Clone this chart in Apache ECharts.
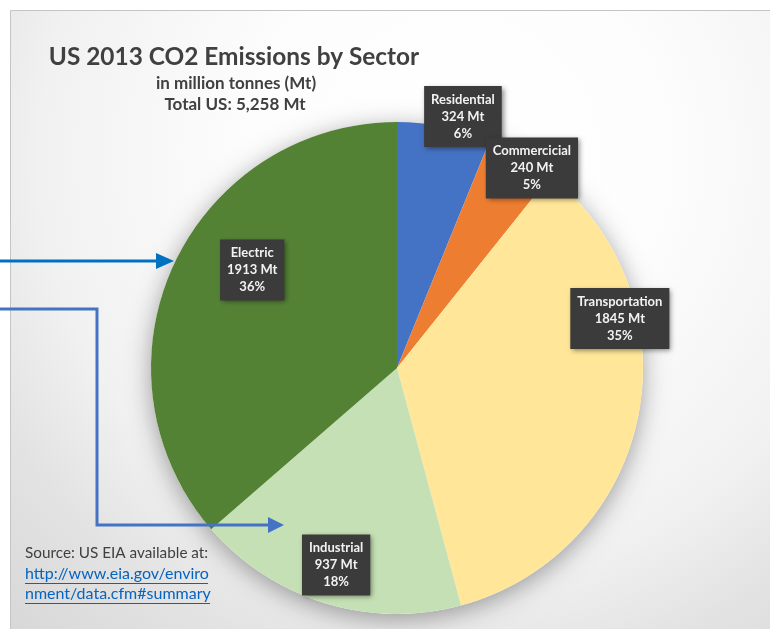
<!DOCTYPE html>
<html>
<head>
<meta charset="utf-8">
<script src="https://cdn.jsdelivr.net/npm/echarts@6/dist/echarts.min.js"></script>
<style>
  html, body { margin: 0; padding: 0; background: #ffffff; }
  #chart { width: 770px; height: 629px; }
</style>
</head>
<body>
<div id="chart"></div>
<script>
// Sectors, clockwise from twelve o'clock
const sectors = ['Residential', 'Commercicial', 'Transportation', 'Industrial', 'Electric'];
// Emissions in million tonnes (Mt)
const emissions = [324, 240, 1845, 937, 1913];
const sectorColors = ['#4472C4', '#ED7D31', '#FFE699', '#C5E0B4', '#548235'];

// Where each label box sits: [fraction of radius, angle nudge in degrees]
const labelPlacement = [[1.057, 3.6], [0.981, 3.6], [0.928, -24.3], [0.838, 0.2], [0.711, 9.6]];

const titleText = 'US 2013 CO2 Emissions by Sector';
const subtitleLines = ['in million tonnes (Mt)', 'Total US: 5,258 Mt'];
const sourceLine = 'Source: US EIA available at:';
const linkLines = ['http://www.eia.gov/enviro', 'nment/data.cfm#summary'];

const FONT = 'Lato, "Open Sans", sans-serif';
const PIE_CENTER = [397, 368];
const PIE_RADIUS = 246;

const total = emissions.reduce((a, b) => a + b, 0);
// mid angle of each slice, degrees clockwise from the top
const midAngles = [];
let acc = 0;
emissions.forEach(v => {
  const span = v / total * 360;
  midAngles.push(acc + span / 2);
  acc += span;
});

const chart = echarts.init(document.getElementById('chart'), null, { renderer: 'canvas' });

const option = {
  animation: false,
  graphic: [
    {
      type: 'rect', z: 0, silent: true,
      shape: { x: 10.5, y: 10.5, width: 770, height: 630 },
      style: {
        fill: new echarts.graphic.RadialGradient(0.58, 0.23, 1.05, [
          { offset: 0, color: '#ffffff' },
          { offset: 0.3, color: '#fdfdfd' },
          { offset: 0.45, color: '#f8f8f8' },
          { offset: 0.63, color: '#f1f1f1' },
          { offset: 0.79, color: '#e3e3e3' },
          { offset: 1, color: '#d7d7d7' }
        ]),
        stroke: '#c4c4c4', lineWidth: 1
      }
    },
    {
      type: 'text', z: 5, x: 234, y: 57,
      style: { text: titleText, font: 'bold 24.4px ' + FONT, fill: '#404040', align: 'center', verticalAlign: 'middle' }
    },
    {
      type: 'text', z: 5, x: 236, y: 84,
      style: { text: subtitleLines[0], font: 'bold 17px ' + FONT, fill: '#404040', align: 'center', verticalAlign: 'middle' }
    },
    {
      type: 'text', z: 5, x: 235, y: 105,
      style: { text: subtitleLines[1], font: 'bold 17px ' + FONT, fill: '#404040', align: 'center', verticalAlign: 'middle' }
    },
    {
      type: 'text', z: 5, x: 25, y: 553,
      style: { text: sourceLine, font: '15.3px ' + FONT, fill: '#404040', align: 'left', verticalAlign: 'middle' }
    },
    {
      type: 'text', z: 5, x: 25, y: 574,
      style: { text: linkLines[0], font: '16px ' + FONT, fill: '#0563C1', align: 'left', verticalAlign: 'middle' }
    },
    {
      type: 'text', z: 5, x: 25, y: 594,
      style: { text: linkLines[1], font: '16px ' + FONT, fill: '#0563C1', align: 'left', verticalAlign: 'middle' }
    },
    {
      type: 'line', z: 5, silent: true,
      shape: { x1: 25, y1: 583.5, x2: 208, y2: 583.5 },
      style: { stroke: '#0563C1', lineWidth: 1 }
    },
    {
      type: 'line', z: 5, silent: true,
      shape: { x1: 25, y1: 603.5, x2: 210, y2: 603.5 },
      style: { stroke: '#0563C1', lineWidth: 1 }
    },
    // pointer into the Electric slice
    {
      type: 'polyline', z: 10, silent: true,
      shape: { points: [[0, 261], [160, 261]] },
      style: { stroke: '#0070C0', lineWidth: 3, fill: null }
    },
    {
      type: 'polygon', z: 10, silent: true,
      shape: { points: [[156, 253], [174, 261], [156, 269]] },
      style: { fill: '#0070C0' }
    },
    // elbow pointer into the Industrial slice
    {
      type: 'polyline', z: 10, silent: true,
      shape: { points: [[0, 309], [97, 309], [97, 525], [272, 525]] },
      style: { stroke: '#4472C4', lineWidth: 3, fill: null, lineJoin: 'miter' }
    },
    {
      type: 'polygon', z: 10, silent: true,
      shape: { points: [[268, 517], [284, 525], [268, 533]] },
      style: { fill: '#4472C4' }
    }
  ],
  series: [
    {
      // soft drop shadow under the whole pie
      type: 'pie', z: 1, silent: true,
      center: PIE_CENTER, radius: PIE_RADIUS,
      label: { show: false }, labelLine: { show: false },
      itemStyle: { color: '#ffffff', shadowBlur: 24, shadowColor: 'rgba(0,0,0,0.36)', shadowOffsetY: 5 },
      data: [{ value: 1, name: 'shadow' }]
    },
    {
      type: 'pie', z: 2,
      center: PIE_CENTER, radius: PIE_RADIUS,
      startAngle: 90, clockwise: true,
      percentPrecision: 0,
      avoidLabelOverlap: false,
      emphasis: { disabled: true },
      itemStyle: { borderWidth: 0 },
      label: {
        show: true, position: 'inside',
        formatter: p => p.name + '\n' + p.value + ' Mt\n' + p.percent + '%',
        fontFamily: FONT, fontWeight: 'bold', fontSize: 13, lineHeight: 17,
        color: '#f2f2f2', align: 'center', verticalAlign: 'middle',
        backgroundColor: '#3b3b3b', padding: [5, 7],
        shadowColor: 'rgba(0,0,0,0.45)', shadowBlur: 5, shadowOffsetX: 2, shadowOffsetY: 2
      },
      labelLine: { show: false },
      labelLayout: params => {
        const i = params.dataIndex;
        const [frac, nudge] = labelPlacement[i];
        const a = (midAngles[i] + nudge) * Math.PI / 180;
        return {
          x: PIE_CENTER[0] + PIE_RADIUS * frac * Math.sin(a),
          y: PIE_CENTER[1] - PIE_RADIUS * frac * Math.cos(a)
        };
      },
      data: sectors.map((name, i) => ({ name, value: emissions[i], itemStyle: { color: sectorColors[i] } }))
    }
  ]
};

chart.setOption(option);
</script>
</body>
</html>
